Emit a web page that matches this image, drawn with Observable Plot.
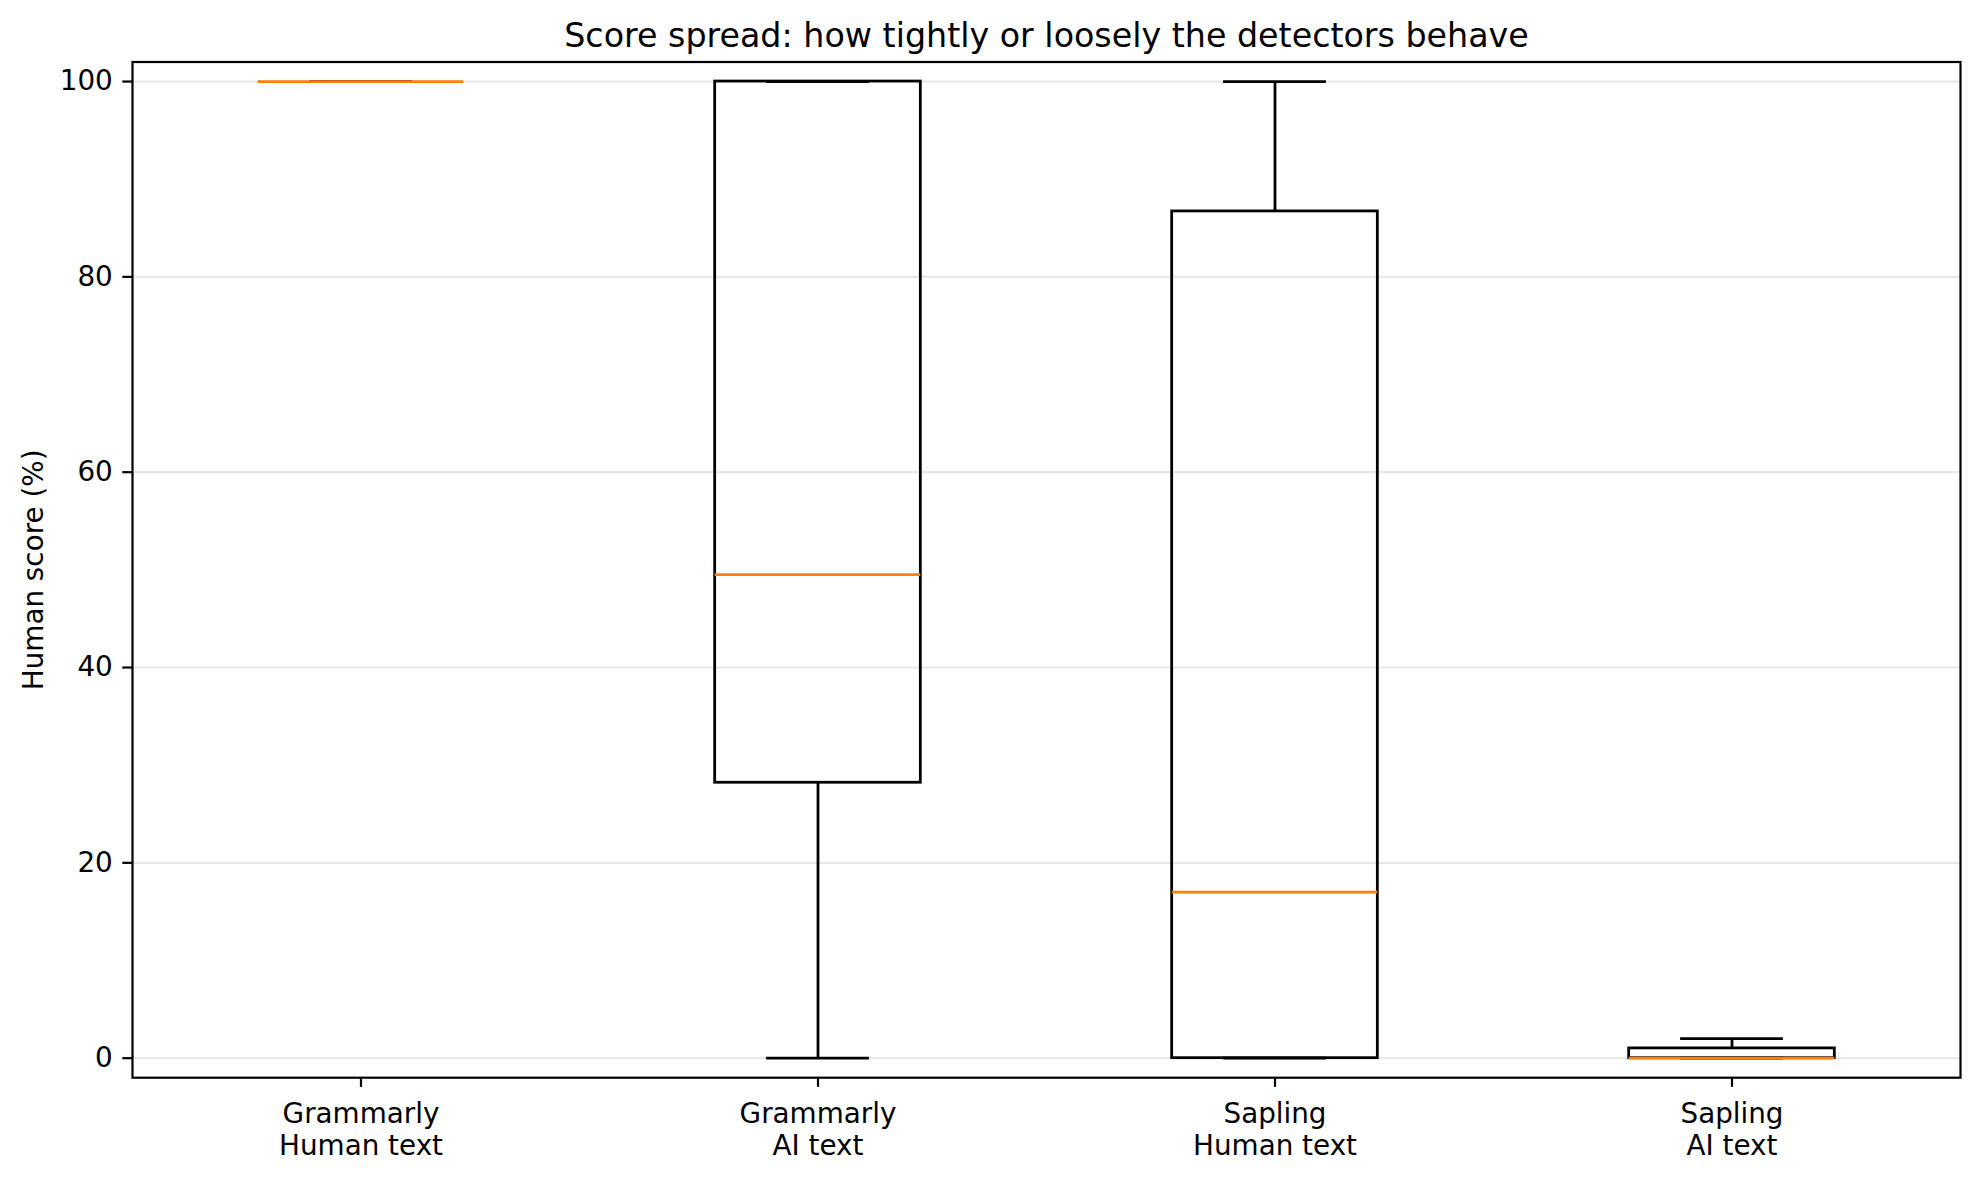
<!DOCTYPE html>
<html><head><meta charset="utf-8">
<script src="https://cdn.jsdelivr.net/npm/d3@7"></script>
<script src="https://cdn.jsdelivr.net/npm/@observablehq/plot@0.6"></script>
<style>body{margin:0;background:#fff} svg{display:block}</style>
</head><body><div id="chart"></div>
<script>
const title = "Score spread: how tightly or loosely the detectors behave";
const yLabel = "Human score (%)";
const categories = ["Grammarly\nHuman text", "Grammarly\nAI text", "Sapling\nHuman text", "Sapling\nAI text"];
const whiskerLow  = [100, 0,    0,    0];
const q1          = [100, 28.2, 0,    0];
const median      = [100, 49.5, 17,   0];
const q3          = [100, 100,  86.7, 1];
const whiskerHigh = [100, 100,  100,  2];
const yTicks = [0, 20, 40, 60, 80, 100];

const rows = categories.map((label, i) => ({
  label, pos: i + 1,
  lo: whiskerLow[i], q1: q1[i], med: median[i], q3: q3[i], hi: whiskerHigh[i]
}));
const positions = rows.map(d => d.pos);
const halfBox = 0.225, halfCap = 0.1125;
const lw = 2.78;

const plot = Plot.plot({
  width: 1980, height: 1177,
  marginLeft: 132, marginRight: 20, marginTop: 61.5, marginBottom: 99.8,
  style: {fontFamily: "DejaVu Sans", background: "white", color: "black"},
  x: {domain: [0.5, 4.5]},
  y: {domain: [-2, 102]},
  marks: [
    Plot.gridY(yTicks, {stroke: "#e8e8e8", strokeOpacity: 1, strokeWidth: 2.2}),
    Plot.rect(rows, {x1: d => d.pos - halfBox, x2: d => d.pos + halfBox, y1: "q1", y2: "q3", fill: "none", stroke: "black", strokeWidth: lw}),
    Plot.ruleX(rows, {x: "pos", y1: "q3", y2: "hi", stroke: "black", strokeWidth: lw}),
    Plot.ruleX(rows, {x: "pos", y1: "lo", y2: "q1", stroke: "black", strokeWidth: lw}),
    Plot.ruleY(rows, {y: "hi", x1: d => d.pos - halfCap, x2: d => d.pos + halfCap, stroke: "black", strokeWidth: lw}),
    Plot.ruleY(rows, {y: "lo", x1: d => d.pos - halfCap, x2: d => d.pos + halfCap, stroke: "black", strokeWidth: lw}),
    Plot.ruleY(rows, {y: "med", x1: d => d.pos - halfBox, x2: d => d.pos + halfBox, stroke: "#ff7f0e", strokeWidth: lw}),
    Plot.frame({stroke: "black", strokeWidth: 2.2}),
    Plot.axisY(yTicks, {tickSize: 9.7, tickPadding: 10, fontSize: 27.8, strokeWidth: 2.2, label: null}),
    Plot.axisX(positions, {tickSize: 9.7, tickFormat: () => "", strokeWidth: 2.2, label: null}),
    Plot.text(rows, {x: "pos", text: "label", frameAnchor: "bottom", lineAnchor: "top", dy: 23, fontSize: 27.8, lineHeight: 1.14}),
    Plot.text([title], {text: d => d, frameAnchor: "top", lineAnchor: "bottom", dy: -15.5, fontSize: 33.3}),
    Plot.text([yLabel], {text: d => d, frameAnchor: "left", textAnchor: "middle", rotate: -90, dx: -98, fontSize: 27.8})
  ]
});
document.getElementById("chart").append(plot);
</script>
</body></html>
